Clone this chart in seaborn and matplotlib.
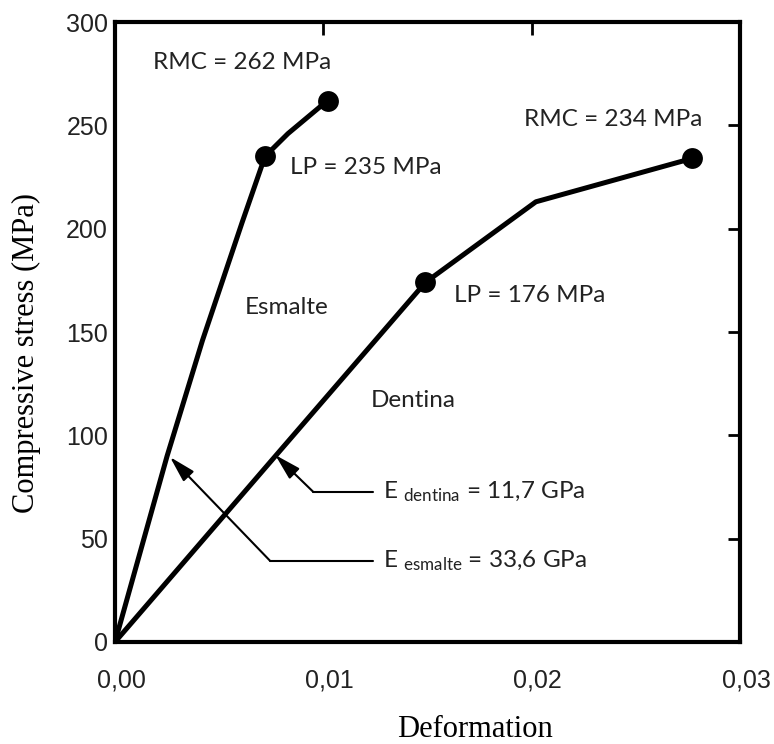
import numpy as np
import pandas as pd
import matplotlib
matplotlib.use("Agg")
import matplotlib.pyplot as plt
import seaborn as sns
from matplotlib.transforms import ScaledTranslation

# ---------------- data ----------------
esmalte_strain = [0.0, 0.0025, 0.0042, 0.0061, 0.0072, 0.0083, 0.0102]
esmalte_stress = [0, 90, 146, 203, 235, 246, 262]
dentina_strain = [0.0, 0.0077, 0.0149, 0.0202, 0.0277]
dentina_stress = [0, 90, 174, 213, 234]
marker_strain = [0.0072, 0.0102, 0.0149, 0.0277]
marker_stress = [235, 262, 174, 234]
x_ticks = [0.0, 0.01, 0.02, 0.03]
x_tick_labels = ["0,00", "0,01", "0,02", "0,03"]
y_ticks = [0, 50, 100, 150, 200, 250, 300]
y_tick_labels = ["0", "50", "100", "150", "200", "250", "300"]

sns.set_style("white")
plt.rcParams["font.family"] = ["Lato", "DejaVu Sans"]
plt.rcParams["mathtext.fontset"] = "custom"
plt.rcParams["mathtext.rm"] = "Lato"
plt.rcParams["mathtext.it"] = "Lato"

df = pd.concat([
    pd.DataFrame({"strain": esmalte_strain, "stress": esmalte_stress, "material": "Esmalte"}),
    pd.DataFrame({"strain": dentina_strain, "stress": dentina_stress, "material": "Dentina"}),
], ignore_index=True)

fig = plt.figure(figsize=(7.74, 7.44), dpi=100)
ax = fig.add_axes([0.1486, 0.1371, 0.8075, 0.8333])

sns.lineplot(data=df, x="strain", y="stress", hue="material",
             palette={"Esmalte": "black", "Dentina": "black"},
             sort=False, estimator=None, linewidth=3.6, legend=False, ax=ax)
sns.scatterplot(x=marker_strain, y=marker_stress, color="black", s=15 ** 2,
                linewidth=0, ax=ax, zorder=5)

ax.set_xlim(0, 0.03)
ax.set_ylim(0, 300)
ax.set_xticks(x_ticks)
ax.set_xticklabels(x_tick_labels)
ax.set_yticks(y_ticks)
ax.set_yticklabels(y_tick_labels)

for s in ax.spines.values():
    s.set_visible(True)
    s.set_linewidth(3)
    s.set_color("black")

ax.tick_params(axis="both", which="major", direction="in", length=9, width=2,
               top=True, right=True, labeltop=False, labelright=False,
               colors="black", labelcolor="#222222")
ax.tick_params(axis="x", pad=19, labelsize=18)
ax.tick_params(axis="y", pad=5, labelsize=18)
for lab in ax.get_xticklabels() + ax.get_yticklabels():
    lab.set_fontfamily(["Liberation Sans", "DejaVu Sans"])
for lab in ax.get_xticklabels():
    lab.set_transform(lab.get_transform() + ScaledTranslation(6 / 100, 0, fig.dpi_scale_trans))

ax.set_xlabel("Deformation", fontfamily=["Liberation Serif"], fontsize=22, color="black")
ax.set_ylabel("Compressive stress (MPa)", fontfamily=["Liberation Serif"], fontsize=22, color="black")
ax.xaxis.set_label_coords(0.576, -0.117)
ax.yaxis.set_label_coords(-0.118, 0.466)

tkw = dict(fontsize=17.5, color="#222222", va="center", ha="left")
ax.text(0.00183, 280.6, "RMC = 262 MPa", **tkw)
ax.text(0.00841, 229.8, "LP = 235 MPa", **tkw)
ax.text(0.01962, 252.6, "RMC = 234 MPa", **tkw)
ax.text(0.01625, 167.9, "LP = 176 MPa", **tkw)
ax.text(0.00625, 162.0, "Esmalte", **tkw)
ax.text(0.01226, 117.0, "Dentina", **tkw)
ax.text(0.01288, 72.6, r"E $_{\mathrm{dentina}}$ = 11,7 GPa", **tkw)
ax.text(0.01288, 39.2, r"E $_{\mathrm{esmalte}}$ = 33,6 GPa", **tkw)

# leader lines with arrows
arrow_kw = dict(arrowstyle="-|>,head_length=0.8,head_width=0.22", lw=1.5,
                color="black", shrinkA=0, shrinkB=0, mutation_scale=20)
ax.plot([0.0124, 0.00745], [39.2, 39.2], color="black", lw=1.5)
ax.annotate("", xy=(0.00264, 89.5), xytext=(0.00745, 39.2), arrowprops=arrow_kw)
ax.plot([0.0124, 0.00952], [72.6, 72.6], color="black", lw=1.5)
ax.annotate("", xy=(0.00769, 90.5), xytext=(0.00952, 72.6), arrowprops=arrow_kw)

fig.savefig("out.png", dpi=100)
